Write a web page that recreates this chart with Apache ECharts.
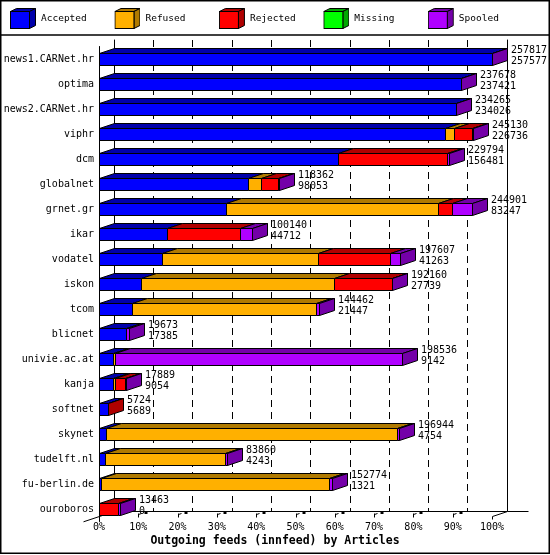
<!DOCTYPE html>
<html>
<head>
<meta charset="utf-8">
<script src="https://cdn.jsdelivr.net/npm/echarts@6/dist/echarts.min.js"></script>
<style>
  html, body { margin: 0; padding: 0; background: #fff; }
  #chart { width: 550px; height: 555px; }
</style>
</head>
<body>
<div id="chart"></div>
<script>
// feeds, top to bottom
var hosts = ['news1.CARNet.hr', 'optima', 'news2.CARNet.hr', 'viphr', 'dcm', 'globalnet',
  'grnet.gr', 'ikar', 'vodatel', 'iskon', 'tcom', 'blicnet', 'univie.ac.at', 'kanja',
  'softnet', 'skynet', 'tudelft.nl', 'fu-berlin.de', 'ouroboros'];

// articles offered (upper number) and accepted (lower number)
var offered = [257817, 237678, 234265, 245130, 229794, 118362, 244901, 100140, 197607, 192160,
  144462, 19673, 198536, 17889, 5724, 196944, 83860, 152774, 13463];
var accepted = [257577, 237421, 234026, 226736, 156481, 98053, 83247, 44712, 41263, 27739,
  21447, 17385, 9142, 9054, 5689, 4754, 4243, 1321, 0];

var refused = [0, 0, 0, 6300, 0, 8400, 139300, 0, 102200, 126200,
  121000, 0, 1600, 1500, 0, 190600, 78400, 149800, 0];
var rejected = [0, 0, 0, 11400, 71500, 11000, 9200, 47500, 47630, 38050,
  0, 0, 0, 6800, 35, 0, 0, 0, 12270];
var missing = [0, 0, 0, 0, 0, 0, 0, 0, 0, 0,
  0, 0, 0, 0, 0, 0, 0, 0, 0];
var spooled = [240, 257, 239, 694, 1813, 909, 13154, 7928, 6514, 171,
  2015, 2288, 187794, 535, 0, 1590, 1217, 1653, 1193];

var floorTicks = [0, 10, 20, 30, 40, 50, 60, 70, 80, 90, 100];

var statuses = [
  {name: 'Accepted', values: accepted, front: '#0000ff', dark: '#0000aa'},
  {name: 'Refused',  values: refused,  front: '#ffb000', dark: '#b07a00'},
  {name: 'Rejected', values: rejected, front: '#ff0000', dark: '#b00000'},
  {name: 'Missing',  values: missing,  front: '#00ff00', dark: '#00a800'},
  {name: 'Spooled',  values: spooled,  front: '#b000ff', dark: '#7400a8'}
];

var MONO = '"DejaVu Sans Mono", "Liberation Mono", monospace';
var DX = 15, DY = 5, HALF = 6;

var maxOffered = Math.max.apply(null, offered);
function pct(v) { return v / maxOffered * 100; }
function px(v) { return Math.round(v) + 0.5; }

// last non-empty segment of every row gets the side face
var lastIndex = hosts.map(function (h, i) {
  var last = 0;
  statuses.forEach(function (s, k) { if (s.values[i] > 0) last = k; });
  return last;
});

function cubeIcon(front, dark) {
  var svg = "<svg xmlns='http://www.w3.org/2000/svg' width='26' height='21' viewBox='0 0 26 21'>" +
    "<path d='M0.5 3.5 L6.5 0.5 L25.5 0.5 L19.5 3.5 Z' fill='" + dark + "' stroke='#000'/>" +
    "<path d='M19.5 3.5 L25.5 0.5 L25.5 17.5 L19.5 20.5 Z' fill='" + dark + "' stroke='#000'/>" +
    "<rect x='0.5' y='3.5' width='19' height='17' fill='" + front + "' stroke='#000'/></svg>";
  return 'image://data:image/svg+xml;charset=utf-8,' + encodeURIComponent(svg);
}

function barRenderer(front, dark) {
  return function (params, api) {
    var p0 = api.coord([api.value(0), api.value(2)]);
    var p1 = api.coord([api.value(1), api.value(2)]);
    var x0 = px(p0[0]), x1 = px(p1[0]), y = px(p0[1]);
    var line = {stroke: '#000', lineWidth: 1};
    var children = [
      {type: 'polygon', shape: {points: [[x0, y - HALF], [x0 + DX, y - HALF - DY], [x1 + DX, y - HALF - DY], [x1, y - HALF]]},
        style: Object.assign({fill: dark}, line)},
      {type: 'rect', shape: {x: x0, y: y - HALF, width: x1 - x0, height: HALF * 2},
        style: Object.assign({fill: front}, line)}
    ];
    if (api.value(3)) {
      children.push({type: 'polygon',
        shape: {points: [[x1, y - HALF], [x1 + DX, y - HALF - DY], [x1 + DX, y + HALF - DY], [x1, y + HALF]]},
        style: Object.assign({fill: dark}, line)});
    }
    return {type: 'group', children: children};
  };
}

var series = statuses.map(function (s, k) {
  var data = [];
  hosts.forEach(function (h, i) {
    if (s.values[i] <= 0) return;
    var start = 0;
    for (var j = 0; j < k; j++) start += statuses[j].values[i];
    data.push([pct(start), pct(start + s.values[i]), i, lastIndex[i] === k ? 1 : 0]);
  });
  return {
    name: s.name, type: 'custom', xAxisIndex: 0, yAxisIndex: 0, z: 3,
    itemStyle: {color: s.front},
    encode: {x: [0, 1], y: 2},
    renderItem: barRenderer(s.front, s.dark),
    data: data
  };
});

// offered / accepted numbers next to the bars
series.push({
  name: 'numbers', type: 'custom', xAxisIndex: 0, yAxisIndex: 0, z: 4,
  encode: {x: 0, y: 1},
  data: hosts.map(function (h, i) { return [pct(offered[i]), i, offered[i], accepted[i]]; }),
  renderItem: function (params, api) {
    var p = api.coord([api.value(0), api.value(1)]);
    return {type: 'text', x: Math.round(p[0]) + DX + 4, y: p[1] - 14.5,
      style: {text: api.value(2) + '\n' + api.value(3), fill: '#000', fontSize: 10, fontFamily: MONO,
        lineHeight: 11, align: 'left', verticalAlign: 'top'}};
  }
});

// floor of the 3d box
series.push({
  name: 'floor', type: 'custom', xAxisIndex: 0, yAxisIndex: 0, z: 1,
  encode: {x: 0},
  data: floorTicks.map(function (t) { return [t]; }),
  renderItem: function (params, api) {
    var v = api.value(0);
    var p = api.coord([v, hosts.length - 1]);
    var x = px(p[0]), yf = px(p[1] + HALF + 1), yb = yf - DY;
    var line = {stroke: '#000', lineWidth: 1};
    var ch = [];
    if (v === 0) {
      ch.push({type: 'line', shape: {x1: x - DX - 1, y1: yf + DY + 0.3, x2: x + DX, y2: yb}, style: line});
    } else if (v === 100) {
      ch.push({type: 'line', shape: {x1: x, y1: yf, x2: x + DX, y2: yb}, style: line});
      ch.push({type: 'line', shape: {x1: x + DX, y1: yb, x2: x + DX + 21, y2: yb}, style: line});
      ch.push({type: 'line', shape: {x1: x, y1: yf, x2: x, y2: yf + 3}, style: line});
    } else {
      ch.push({type: 'line', shape: {x1: x, y1: yf - 3, x2: x, y2: yf + 1}, style: line});
      ch.push({type: 'line', shape: {x1: x, y1: yf - 2, x2: x + 3, y2: yf - 3}, style: line});
      ch.push({type: 'rect', shape: {x: x + 6, y: yb, width: 3, height: 2.5}, style: {fill: '#000'}});
    }
    return {type: 'group', children: ch};
  }
});

var chart = echarts.init(document.getElementById('chart'));
chart.setOption({
  backgroundColor: '#fff',
  animation: false,
  textStyle: {fontFamily: MONO},
  title: {
    text: 'Outgoing feeds (innfeed) by Articles',
    left: 'center', top: 535, padding: 0,
    textStyle: {fontFamily: MONO, fontSize: 11.5, fontWeight: 'bold', color: '#000'}
  },
  legend: {
    left: 10, top: 8, padding: 0,
    itemWidth: 26, itemHeight: 21, itemGap: 27.7,
    selectedMode: false,
    formatter: function (name) { return (name + '        ').slice(0, 8); },
    textStyle: {fontFamily: MONO, fontSize: 9.5, color: '#000'},
    data: statuses.map(function (s) { return {name: s.name, icon: cubeIcon(s.front, s.dark)}; })
  },
  graphic: [
    {type: 'rect', shape: {x: 0.75, y: 0.75, width: 548.5, height: 552.5},
      style: {fill: null, stroke: '#000', lineWidth: 1.5}, z: 10},
    {type: 'line', shape: {x1: 0, y1: 35, x2: 550, y2: 35}, style: {stroke: '#000', lineWidth: 1.5}, z: 10}
  ],
  grid: [
    {left: 99, right: 58, top: 46.5, height: 475, outerBoundsMode: 'none'},
    {left: 114, right: 43, top: 40, bottom: 44, outerBoundsMode: 'none'}
  ],
  xAxis: [
    {gridIndex: 0, type: 'value', min: 0, max: 100, interval: 10,
      axisLine: {show: false}, axisTick: {show: false}, splitLine: {show: false},
      axisLabel: {formatter: '{value}%', color: '#000', fontFamily: MONO, fontSize: 10, margin: 1}},
    {gridIndex: 1, type: 'value', min: 0, max: 100, interval: 10,
      axisLine: {show: true, onZero: false, lineStyle: {color: '#000', width: 1}},
      axisTick: {show: false}, axisLabel: {show: false},
      splitLine: {show: true, lineStyle: {color: '#000', width: 1, type: [7, 5]}}}
  ],
  yAxis: [
    {gridIndex: 0, type: 'category', inverse: true, data: hosts,
      axisLine: {show: true, onZero: false, lineStyle: {color: '#000', width: 1}},
      axisTick: {show: false}, splitLine: {show: false},
      axisLabel: {color: '#000', fontFamily: MONO, fontSize: 10, margin: 5}},
    {gridIndex: 1, type: 'value', min: 0, max: 1, position: 'left',
      axisLine: {show: true, onZero: false, lineStyle: {color: '#000', width: 1}},
      axisTick: {show: false}, axisLabel: {show: false}, splitLine: {show: false}},
    {gridIndex: 1, type: 'value', min: 0, max: 1, position: 'right',
      axisLine: {show: true, onZero: false, lineStyle: {color: '#000', width: 1}},
      axisTick: {show: false}, axisLabel: {show: false}, splitLine: {show: false}}
  ],
  series: series
});
</script>
</body>
</html>
